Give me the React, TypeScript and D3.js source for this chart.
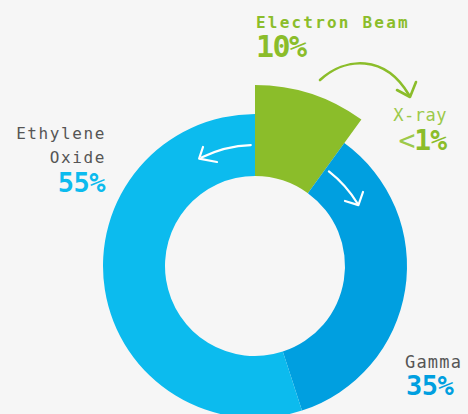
import React from "react";
import * as d3 from "d3";

const categories = ["Electron Beam", "Gamma", "Ethylene Oxide"];
const values = [10, 35, 55];
const colors = ["#8bbd2a", "#009fe0", "#0cbbee"];
const percentLabels = ["10%", "35%", "55%"];
const xrayLabel = "X-ray";
const xrayValue = "1%";

const W = 468;
const H = 414;
const cx = 255;
const cy = 266;
const inner = 90;
const outer = 152;
const outerExploded = 181;

export default function App() {
  const pie = d3
    .pie<number>()
    .sort(null)
    .startAngle(0)
    .endAngle(2 * Math.PI)
    .value((d) => d);
  const arcs = pie(values);
  const arcGen = d3.arc<d3.PieArcDatum<number>>().innerRadius(inner);

  const polar = (r: number, deg: number) => {
    const a = (deg * Math.PI) / 180;
    return [cx + r * Math.sin(a), cy - r * Math.cos(a)];
  };
  const arcPath = (r: number, a0: number, a1: number) => {
    const p = d3.path();
    const s = ((a0 - 90) * Math.PI) / 180;
    const e = ((a1 - 90) * Math.PI) / 180;
    p.arc(cx, cy, r, s, e, a1 < a0);
    return p.toString();
  };
  const head = (tip: number[], b1: number[], b2: number[]) =>
    `M${b1[0]},${b1[1]}L${tip[0]},${tip[1]}L${b2[0]},${b2[1]}`;

  const font = "'DejaVu Sans Mono', monospace";
  const grey = "#555";

  return (
    <svg width={W} height={H} style={{ position: "absolute", left: 0, top: 0, background: "#f6f6f6" }}>
      <rect width={W} height={H} fill="#f6f6f6" />
      <g transform={`translate(${cx},${cy})`}>
        {arcs.map((a, i) => (
          <path
            key={categories[i]}
            d={arcGen.outerRadius(i === 0 ? outerExploded : outer)(a) || ""}
            fill={colors[i]}
          />
        ))}
      </g>
      {/* white arrows */}
      <path d={arcPath(121, -2, -26)} fill="none" stroke="#fff" strokeWidth={2.2} strokeLinecap="round" />
      <path d={head(polar(121, -27.5), [203, 147], [217, 162])} fill="none" stroke="#fff" strokeWidth={2.2} strokeLinecap="round" strokeLinejoin="round" />
      <path d={arcPath(120, 38, 58.5)} fill="none" stroke="#fff" strokeWidth={2.2} strokeLinecap="round" />
      <path d={head(polar(120, 59.5), [363, 192], [345, 201])} fill="none" stroke="#fff" strokeWidth={2.2} strokeLinecap="round" strokeLinejoin="round" />
      {/* green arrow */}
      <path d="M320,80 C345,57 385,54 409,95" fill="none" stroke="#8bbd2a" strokeWidth={2.6} strokeLinecap="round" />
      <path d={head([410, 97], [397, 90], [416, 82])} fill="none" stroke="#8bbd2a" strokeWidth={2.6} strokeLinecap="round" strokeLinejoin="round" />

      {/* Electron Beam */}
      <text x={256} y={28} fontFamily={font} fontWeight="bold" fontSize={16} letterSpacing={2.2} fill="#8bbd2a">
        {categories[0]}
      </text>
      <text x={256} y={57} fontFamily={font} fontWeight="bold" fontSize={30} letterSpacing={-1.5} fill="#8bbd2a">
        {percentLabels[0]}
      </text>
      {/* X-ray */}
      <text x={447} y={121} textAnchor="end" fontFamily={font} fontSize={17} letterSpacing={0.5} fill="#9cc94a">
        {xrayLabel}
      </text>
      <text x={446} y={150} textAnchor="end" fontFamily={font} fontSize={28} letterSpacing={-1} fill="#8bbd2a">
        <tspan fontWeight="normal" fill="#9cc94a">{"<"}</tspan>
        <tspan fontWeight="bold">{xrayValue}</tspan>
      </text>
      {/* Ethylene Oxide */}
      <text x={106} y={139} textAnchor="end" fontFamily={font} fontSize={16} letterSpacing={1.6} fill={grey}>
        Ethylene
      </text>
      <text x={106} y={163} textAnchor="end" fontFamily={font} fontSize={16} letterSpacing={1.6} fill={grey}>
        Oxide
      </text>
      <text x={105} y={192} textAnchor="end" fontFamily={font} fontWeight="bold" fontSize={27} letterSpacing={-0.5} fill={colors[2]}>
        {percentLabels[2]}
      </text>
      {/* Gamma */}
      <text x={405} y={368} fontFamily={font} fontSize={17} letterSpacing={1.2} fill={grey}>
        {categories[1]}
      </text>
      <text x={406} y={395} fontFamily={font} fontWeight="bold" fontSize={27} letterSpacing={-0.5} fill={colors[1]}>
        {percentLabels[1]}
      </text>
    </svg>
  );
}
